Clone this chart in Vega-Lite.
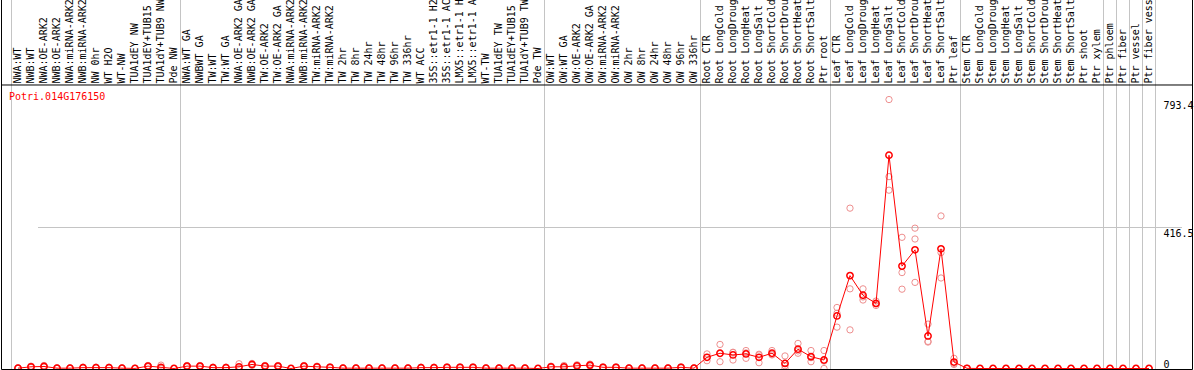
{
  "$schema": "https://vega.github.io/schema/vega-lite/v6.json",
  "width": 1191,
  "height": 370,
  "autosize": {"type": "none"},
  "padding": {"left": 1, "top": -1, "right": 2, "bottom": 1},
  "background": "white",
  "title": {"text": "Potri.014G176150", "orient": "bottom", "anchor": "start", "frame": "group", "offset": 0, "dx": 8, "dy": -269.5, "baseline": "alphabetic", "color": "red", "font": "DejaVu Sans Mono", "fontSize": 10, "fontWeight": "normal"},
  "config": {"view": {"stroke": "black", "strokeWidth": 1}, "font": "DejaVu Sans Mono"},
  "data": {"values": [
    {"i": 0, "label": "NWA:WT", "group": "NW", "mean": 1, "reps": [0, 1, 2]},
    {"i": 1, "label": "NWB:WT", "group": "NW", "mean": 5, "reps": [3, 5, 7]},
    {"i": 2, "label": "NWA:OE-ARK2", "group": "NW", "mean": 6, "reps": [4, 5, 9]},
    {"i": 3, "label": "NWB:OE-ARK2", "group": "NW", "mean": 1, "reps": [0, 1, 2]},
    {"i": 4, "label": "NWA:miRNA-ARK2", "group": "NW", "mean": 1, "reps": [0, 1, 2]},
    {"i": 5, "label": "NWB:miRNA-ARK2", "group": "NW", "mean": 2.5, "reps": [1, 3, 4]},
    {"i": 6, "label": "NW 0hr", "group": "NW", "mean": 2.5, "reps": [2, 2, 4]},
    {"i": 7, "label": "WT H2O", "group": "NW", "mean": 2.5, "reps": [1, 3, 4]},
    {"i": 8, "label": "WT-NW", "group": "NW", "mean": 1, "reps": [0, 1, 2]},
    {"i": 9, "label": "TUA1dEY NW", "group": "NW", "mean": 0.3, "reps": [0, 0, 1]},
    {"i": 10, "label": "TUA1dEY+TUB15 NW", "group": "NW", "mean": 7, "reps": [5, 7, 9]},
    {"i": 11, "label": "TUA1dY+TUB9 NW", "group": "NW", "mean": 3.5, "reps": [0, 1, 10]},
    {"i": 12, "label": "Pde NW", "group": "NW", "mean": 0, "reps": [0, 0, 0]},
    {"i": 13, "label": "NWA:WT GA", "group": "TW", "mean": 7, "reps": [5, 7, 9]},
    {"i": 14, "label": "NWBWT GA", "group": "TW", "mean": 7, "reps": [5, 7, 9]},
    {"i": 15, "label": "TW:WT", "group": "TW", "mean": 2.5, "reps": [1, 3, 4]},
    {"i": 16, "label": "TW:WT GA", "group": "TW", "mean": 2.5, "reps": [1, 3, 4]},
    {"i": 17, "label": "NWA:OE-ARK2 GA", "group": "TW", "mean": 5, "reps": [0, 1, 14]},
    {"i": 18, "label": "NWB:OE-ARK2 GA", "group": "TW", "mean": 12, "reps": [9, 12, 15]},
    {"i": 19, "label": "TW:OE-ARK2", "group": "TW", "mean": 7, "reps": [5, 7, 9]},
    {"i": 20, "label": "TW:OE-ARK2 GA", "group": "TW", "mean": 7, "reps": [5, 7, 9]},
    {"i": 21, "label": "NWA:miRNA-ARK2 GA", "group": "TW", "mean": 0, "reps": [0, 0, 0]},
    {"i": 22, "label": "NWB:miRNA-ARK2 GA", "group": "TW", "mean": 7, "reps": [5, 7, 9]},
    {"i": 23, "label": "TW:miRNA-ARK2", "group": "TW", "mean": 5, "reps": [3, 5, 7]},
    {"i": 24, "label": "TW:miRNA-ARK2 GA", "group": "TW", "mean": 3.5, "reps": [2, 3, 5]},
    {"i": 25, "label": "TW 2hr", "group": "TW", "mean": 1, "reps": [0, 1, 2]},
    {"i": 26, "label": "TW 8hr", "group": "TW", "mean": 1, "reps": [0, 1, 2]},
    {"i": 27, "label": "TW 24hr", "group": "TW", "mean": 1, "reps": [0, 1, 2]},
    {"i": 28, "label": "TW 48hr", "group": "TW", "mean": 1, "reps": [0, 1, 2]},
    {"i": 29, "label": "TW 96hr", "group": "TW", "mean": 1, "reps": [0, 1, 2]},
    {"i": 30, "label": "TW 336hr", "group": "TW", "mean": 1, "reps": [0, 1, 2]},
    {"i": 31, "label": "WT ACC", "group": "TW", "mean": 2.5, "reps": [1, 3, 4]},
    {"i": 32, "label": "35S::etr1-1 H2O", "group": "TW", "mean": 2.5, "reps": [1, 3, 4]},
    {"i": 33, "label": "35S::etr1-1 ACC", "group": "TW", "mean": 3.5, "reps": [2, 3, 5]},
    {"i": 34, "label": "LMX5::etr1-1 H2O", "group": "TW", "mean": 3.5, "reps": [2, 3, 5]},
    {"i": 35, "label": "LMX5::etr1-1 ACC", "group": "TW", "mean": 3.5, "reps": [2, 3, 5]},
    {"i": 36, "label": "WT-TW", "group": "TW", "mean": 1, "reps": [0, 1, 2]},
    {"i": 37, "label": "TUA1dEY TW", "group": "TW", "mean": 1, "reps": [0, 1, 2]},
    {"i": 38, "label": "TUA1dEY+TUB15 TW", "group": "TW", "mean": 1, "reps": [0, 1, 2]},
    {"i": 39, "label": "TUA1dY+TUB9 TW", "group": "TW", "mean": 1, "reps": [0, 1, 2]},
    {"i": 40, "label": "Pde TW", "group": "TW", "mean": 0, "reps": [0, 0, 0]},
    {"i": 41, "label": "OW:WT", "group": "OW", "mean": 5, "reps": [3, 5, 7]},
    {"i": 42, "label": "OW:WT GA", "group": "OW", "mean": 5, "reps": [2, 4, 9]},
    {"i": 43, "label": "OW:OE-ARK2", "group": "OW", "mean": 8, "reps": [5, 8, 11]},
    {"i": 44, "label": "OW:OE-ARK2 GA", "group": "OW", "mean": 10, "reps": [7, 10, 13]},
    {"i": 45, "label": "OW:miRNA-ARK2", "group": "OW", "mean": 3.5, "reps": [2, 3, 5]},
    {"i": 46, "label": "OW:miRNA-ARK2 GA", "group": "OW", "mean": 3.5, "reps": [2, 3, 5]},
    {"i": 47, "label": "OW 2hr", "group": "OW", "mean": 1, "reps": [0, 1, 2]},
    {"i": 48, "label": "OW 8hr", "group": "OW", "mean": 1, "reps": [0, 1, 2]},
    {"i": 49, "label": "OW 24hr", "group": "OW", "mean": 1, "reps": [0, 1, 2]},
    {"i": 50, "label": "OW 48hr", "group": "OW", "mean": 1, "reps": [0, 1, 2]},
    {"i": 51, "label": "OW 96hr", "group": "OW", "mean": 3.5, "reps": [2, 3, 5]},
    {"i": 52, "label": "OW 336hr", "group": "OW", "mean": 1, "reps": [0, 1, 2]},
    {"i": 53, "label": "Root CTR", "group": "Root", "mean": 33, "reps": [43, 33, 23]},
    {"i": 54, "label": "Root LongCold", "group": "Root", "mean": 45, "reps": [71, 44, 20]},
    {"i": 55, "label": "Root LongDrought", "group": "Root", "mean": 40, "reps": [48, 47, 25]},
    {"i": 56, "label": "Root LongHeat", "group": "Root", "mean": 43, "reps": [53, 46, 30]},
    {"i": 57, "label": "Root LongSalt", "group": "Root", "mean": 33, "reps": [42, 40, 17]},
    {"i": 58, "label": "Root ShortCold", "group": "Root", "mean": 45, "reps": [53, 42, 40]},
    {"i": 59, "label": "Root ShortDrought", "group": "Root", "mean": 15, "reps": [37, 8, 0]},
    {"i": 60, "label": "Root ShortHeat", "group": "Root", "mean": 57, "reps": [74, 52, 45]},
    {"i": 61, "label": "Root ShortSalt", "group": "Root", "mean": 35, "reps": [53, 32, 20]},
    {"i": 62, "label": "Ptr root", "group": "Root", "mean": 25, "reps": [53, 22, 0]},
    {"i": 63, "label": "Leaf CTR", "group": "Leaf", "mean": 155, "reps": [180, 163, 122]},
    {"i": 64, "label": "Leaf LongCold", "group": "Leaf", "mean": 274, "reps": [473, 235, 114]},
    {"i": 65, "label": "Leaf LongDrought", "group": "Leaf", "mean": 216, "reps": [235, 211, 202]},
    {"i": 66, "label": "Leaf LongHeat", "group": "Leaf", "mean": 192, "reps": [199, 191, 186]},
    {"i": 67, "label": "Leaf LongSalt", "group": "Leaf", "mean": 629, "reps": [793.4, 566, 526]},
    {"i": 68, "label": "Leaf ShortCold", "group": "Leaf", "mean": 302, "reps": [387, 283, 234]},
    {"i": 69, "label": "Leaf ShortDrought", "group": "Leaf", "mean": 350, "reps": [414, 382, 254]},
    {"i": 70, "label": "Leaf ShortHeat", "group": "Leaf", "mean": 96, "reps": [131, 80, 78]},
    {"i": 71, "label": "Leaf ShortSalt", "group": "Leaf", "mean": 353, "reps": [450, 342, 267]},
    {"i": 72, "label": "Ptr leaf", "group": "Leaf", "mean": 19, "reps": [30, 15, 12]},
    {"i": 73, "label": "Stem CTR", "group": "Stem", "mean": 0.5, "reps": [0, 0, 1]},
    {"i": 74, "label": "Stem LongCold", "group": "Stem", "mean": 0, "reps": [0, 0, 0]},
    {"i": 75, "label": "Stem LongDrought", "group": "Stem", "mean": 0, "reps": [0, 0, 0]},
    {"i": 76, "label": "Stem LongHeat", "group": "Stem", "mean": 0, "reps": [0, 0, 0]},
    {"i": 77, "label": "Stem LongSalt", "group": "Stem", "mean": 0, "reps": [0, 0, 0]},
    {"i": 78, "label": "Stem ShortCold", "group": "Stem", "mean": 0, "reps": [0, 0, 0]},
    {"i": 79, "label": "Stem ShortDrought", "group": "Stem", "mean": 0, "reps": [0, 0, 0]},
    {"i": 80, "label": "Stem ShortHeat", "group": "Stem", "mean": 0, "reps": [0, 0, 0]},
    {"i": 81, "label": "Stem ShortSalt", "group": "Stem", "mean": 0, "reps": [0, 0, 0]},
    {"i": 82, "label": "Ptr shoot", "group": "Stem", "mean": 0, "reps": [0, 0, 0]},
    {"i": 83, "label": "Ptr xylem", "group": "Stem", "mean": 0, "reps": [0, 0, 0]},
    {"i": 84, "label": "Ptr phloem", "group": "Phloem", "mean": 0, "reps": [0, 0, 0]},
    {"i": 85, "label": "Ptr fiber", "group": "Fiber", "mean": 0, "reps": [0, 0, 0]},
    {"i": 86, "label": "Ptr vessel", "group": "Vessel", "mean": 0, "reps": [0, 0, 0]},
    {"i": 87, "label": "Ptr fiber vessel", "group": "FiberVessel", "mean": 0, "reps": [0, 0, 0]}
  ]},
  "layer": [
    {
      "transform": [
        {"joinaggregate": [{"op": "min", "field": "i", "as": "gmin"}], "groupby": ["group"]},
        {"filter": "datum.i == datum.gmin"}
      ],
      "mark": {"type": "rule", "color": "#c4c4c4", "strokeWidth": 1},
      "encoding": {
        "x": {"field": "label", "type": "nominal", "sort": {"field": "i", "op": "min"}, "bandPosition": 0}
      }
    },
    {
      "transform": [
        {"joinaggregate": [{"op": "max", "field": "i", "as": "imax"}]},
        {"filter": "datum.i == datum.imax"}
      ],
      "mark": {"type": "rule", "color": "#c4c4c4", "strokeWidth": 1},
      "encoding": {
        "x": {"field": "label", "type": "nominal", "sort": {"field": "i", "op": "min"}, "bandPosition": 1}
      }
    },
    {
      "data": {"values": [{"edge": "plot top"}]},
      "mark": {"type": "rule", "color": "black", "strokeWidth": 1},
      "encoding": {"y": {"datum": 836.3, "type": "quantitative"}}
    },
    {
      "transform": [{"flatten": ["reps"], "as": ["rep"]}],
      "mark": {"type": "point", "filled": false, "size": 40, "color": "#ee8f8f", "strokeWidth": 1, "opacity": 1, "clip": true},
      "encoding": {
        "x": {"field": "label", "type": "nominal", "sort": {"field": "i", "op": "min"}},
        "y": {"field": "rep", "type": "quantitative", "title": null}
      }
    },
    {
      "mark": {"type": "line", "color": "red", "strokeWidth": 1, "clip": true},
      "encoding": {
        "x": {"field": "label", "type": "nominal", "sort": {"field": "i", "op": "min"}},
        "y": {"field": "mean", "type": "quantitative", "title": null},
        "order": {"field": "i", "type": "quantitative"}
      }
    },
    {
      "mark": {"type": "point", "filled": false, "size": 40, "color": "red", "strokeWidth": 1.5, "opacity": 1, "clip": true},
      "encoding": {
        "x": {
          "field": "label", "type": "nominal", "sort": {"field": "i", "op": "min"},
          "scale": {"type": "band", "paddingInner": 0, "paddingOuter": 0, "range": [10.5, 1154.5]},
          "axis": {"orient": "top", "offset": -86, "title": null, "labelAngle": 270, "labelAlign": "left", "labelBaseline": "middle", "labelPadding": 2, "ticks": false, "tickSize": 0, "domain": false, "grid": false, "labelFont": "DejaVu Sans Mono", "labelFontSize": 10, "labelColor": "black", "labelLimit": 0, "labelOverlap": false, "labelFlush": false}
        },
        "y": {
          "field": "mean", "type": "quantitative", "title": null,
          "scale": {"domain": [-1.475, 1089.98], "nice": false, "zero": false},
          "axis": {"orient": "right", "offset": -31, "title": null, "values": [0, 416.5, 793.4], "labelExpr": "'' + datum.value", "ticks": false, "tickSize": 0, "domain": false, "grid": true, "gridColor": "#c4c4c4", "gridOpacity": {"condition": {"test": "datum.value == 416.5", "value": 1}, "value": 0}, "labelPadding": 2, "labelAlign": "left", "labelBaseline": {"condition": {"test": "datum.value == 0", "value": "bottom"}, "value": "top"}, "labelOffset": 1, "labelFont": "DejaVu Sans Mono", "labelFontSize": 10, "labelColor": "black", "labelFlush": false}
        }
      }
    }
  ]
}
